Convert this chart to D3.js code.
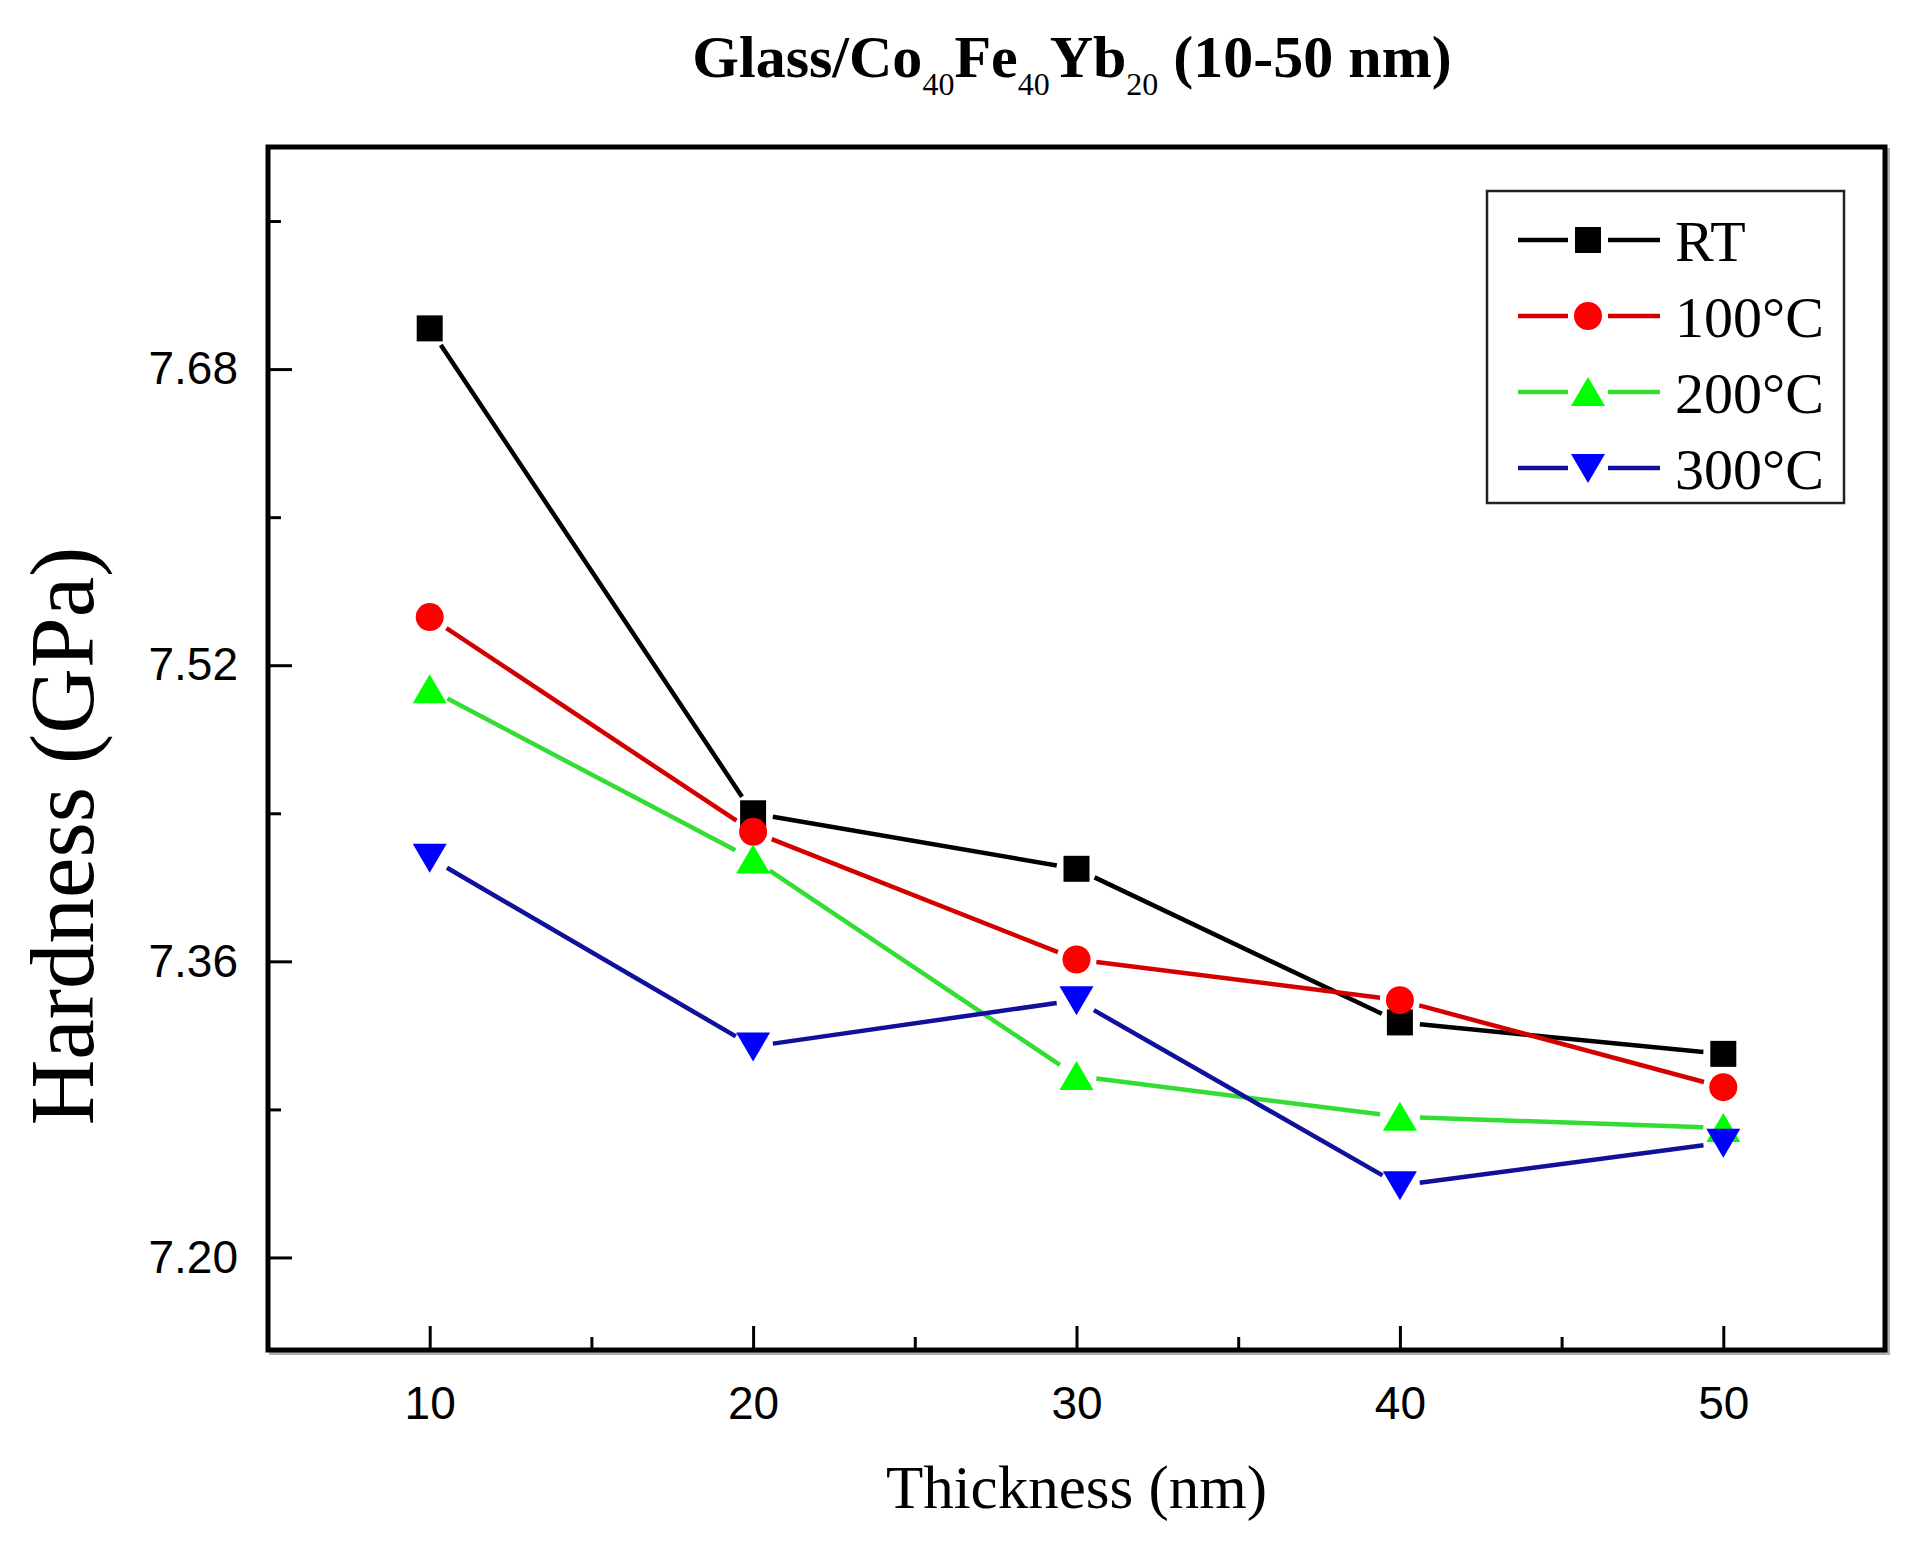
<!DOCTYPE html>
<html>
<head>
<meta charset="utf-8">
<script src="https://cdn.jsdelivr.net/npm/d3@7"></script>
<style>
  body { margin: 0; background: #fff; }
  svg { display: block; }
</style>
</head>
<body>
<script>
// data
var thickness = [10, 20, 30, 40, 50];
var rt   = [7.702, 7.440, 7.410, 7.327, 7.310];
var t100 = [7.546, 7.430, 7.361, 7.339, 7.292];
var t200 = [7.507, 7.415, 7.298, 7.276, 7.270];
var t300 = [7.416, 7.314, 7.339, 7.239, 7.262];
var seriesNames = ["RT", "100°C", "200°C", "300°C"];
var yTicks = [7.20, 7.36, 7.52, 7.68];
var yMinor = [7.28, 7.44, 7.60, 7.76];
var xMinor = [15, 25, 35, 45];

var width = 1907, height = 1550;
var plotLeft = 268, plotRight = 1885, plotTop = 147, plotBottom = 1350;

var svg = d3.select("body").append("svg")
    .attr("width", width)
    .attr("height", height);

var x = d3.scaleLinear().domain([5, 55]).range([plotLeft, plotRight]);
var y = d3.scaleLinear().domain([7.15, 7.80]).range([plotBottom, plotTop]);

// styles for each series
var styles = [
  { line: "#000000", fill: "#000000", shape: "square" },
  { line: "#d40000", fill: "#ff0000", shape: "circle" },
  { line: "#33dd33", fill: "#00ff00", shape: "up" },
  { line: "#10109c", fill: "#0000ff", shape: "down" }
];
var series = [rt, t100, t200, t300].map(function (vals, i) {
  return {
    name: seriesNames[i],
    style: styles[i],
    points: thickness.map(function (t, j) { return { x: t, y: vals[j] }; })
  };
});

function marker(sel, shape, color) {
  if (shape === "square") {
    sel.append("rect").attr("x", -13).attr("y", -13).attr("width", 26).attr("height", 26).attr("fill", color);
  } else if (shape === "circle") {
    sel.append("circle").attr("r", 14).attr("fill", color);
  } else if (shape === "up") {
    sel.append("path").attr("d", "M0,-15L17,14L-17,14Z").attr("fill", color);
  } else {
    sel.append("path").attr("d", "M0,15L17,-14L-17,-14Z").attr("fill", color);
  }
}

// frame shadow + frame
svg.append("rect")
    .attr("x", plotLeft + 3).attr("y", plotTop + 3)
    .attr("width", plotRight - plotLeft).attr("height", plotBottom - plotTop)
    .attr("fill", "none").attr("stroke", "#b0b0b0").attr("stroke-width", 4);
svg.append("rect")
    .attr("x", plotLeft).attr("y", plotTop)
    .attr("width", plotRight - plotLeft).attr("height", plotBottom - plotTop)
    .attr("fill", "#fff").attr("stroke", "#000").attr("stroke-width", 5);

// axes, ticks pointing inward
var yAxis = d3.axisLeft(y).tickValues(yTicks).tickSize(-24).tickPadding(30)
    .tickFormat(d3.format(".2f"));
var gy = svg.append("g").attr("transform", "translate(" + plotLeft + ",0)").call(yAxis);
var gyMinor = svg.append("g").attr("transform", "translate(" + plotLeft + ",0)")
    .call(d3.axisLeft(y).tickValues(yMinor).tickSize(-13).tickFormat(""));

var xAxis = d3.axisBottom(x).tickValues(thickness).tickSize(-24).tickPadding(36)
    .tickFormat(d3.format("d"));
var gx = svg.append("g").attr("transform", "translate(0," + plotBottom + ")").call(xAxis);
var gxMinor = svg.append("g").attr("transform", "translate(0," + plotBottom + ")")
    .call(d3.axisBottom(x).tickValues(xMinor).tickSize(-13).tickFormat(""));

[gy, gyMinor, gx, gxMinor].forEach(function (g) {
  g.select(".domain").remove();
  g.selectAll(".tick line").attr("stroke", "#000").attr("stroke-width", 3);
  g.selectAll(".tick text")
    .attr("fill", "#000")
    .style("font-family", "'Liberation Sans', Arial, sans-serif")
    .style("font-size", "46px");
});

// lines with small gaps around symbols
var gap = 20;
series.forEach(function (s) {
  var pts = s.points;
  for (var i = 0; i < pts.length - 1; i++) {
    var x1 = x(pts[i].x), y1 = y(pts[i].y), x2 = x(pts[i + 1].x), y2 = y(pts[i + 1].y);
    var len = Math.sqrt((x2 - x1) * (x2 - x1) + (y2 - y1) * (y2 - y1));
    var ux = (x2 - x1) / len, uy = (y2 - y1) / len;
    svg.append("line")
      .attr("x1", x1 + ux * gap).attr("y1", y1 + uy * gap)
      .attr("x2", x2 - ux * gap).attr("y2", y2 - uy * gap)
      .attr("stroke", s.style.line).attr("stroke-width", 4.5);
  }
});
series.forEach(function (s) {
  svg.append("g").selectAll("g")
    .data(s.points)
    .enter().append("g")
    .attr("transform", function (d) { return "translate(" + x(d.x) + "," + y(d.y) + ")"; })
    .each(function () { marker(d3.select(this), s.style.shape, s.style.fill); });
});

// legend
var legend = svg.append("g");
legend.append("rect")
    .attr("x", 1487).attr("y", 191).attr("width", 357).attr("height", 312)
    .attr("fill", "#fff").attr("stroke", "#222").attr("stroke-width", 2.5);
var rowY = d3.scalePoint().domain(seriesNames).range([240, 468]);
series.forEach(function (s) {
  var ly = rowY(s.name);
  legend.append("line").attr("x1", 1518).attr("x2", 1568).attr("y1", ly).attr("y2", ly)
    .attr("stroke", s.style.line).attr("stroke-width", 4.5);
  legend.append("line").attr("x1", 1608).attr("x2", 1660).attr("y1", ly).attr("y2", ly)
    .attr("stroke", s.style.line).attr("stroke-width", 4.5);
  marker(legend.append("g").attr("transform", "translate(1588," + ly + ")"), s.style.shape, s.style.fill);
  legend.append("text")
    .attr("x", 1675).attr("y", ly).attr("dy", "0.36em")
    .style("font-family", "'Liberation Serif', 'Times New Roman', serif")
    .style("font-size", "58px")
    .text(s.name);
});

// title with subscripts
var title = svg.append("text")
    .attr("x", 1072).attr("y", 77)
    .attr("text-anchor", "middle")
    .style("font-family", "'Liberation Serif', 'Times New Roman', serif")
    .style("font-weight", "bold")
    .style("font-size", "60px");
var parts = [["Glass/Co", 0], ["40", 1], ["Fe", 0], ["40", 1], ["Yb", 0], ["20", 1], [" (10-50 nm)", 0]];
var prevSub = false;
parts.forEach(function (p) {
  var t = title.append("tspan").text(p[0]);
  if (p[1]) { t.attr("dy", 18).style("font-size", "32px").style("font-weight", "normal"); prevSub = true; }
  else if (prevSub) { t.attr("dy", -18); prevSub = false; }
});

// axis titles
svg.append("text")
    .attr("x", (plotLeft + plotRight) / 2).attr("y", 1508)
    .attr("text-anchor", "middle")
    .style("font-family", "'Liberation Serif', 'Times New Roman', serif")
    .style("font-size", "61px")
    .text("Thickness (nm)");

svg.append("text")
    .attr("transform", "translate(93,836) rotate(-90)")
    .attr("text-anchor", "middle")
    .style("font-family", "'Liberation Serif', 'Times New Roman', serif")
    .style("font-size", "91px")
    .text("Hardness (GPa)");
</script>
</body>
</html>
